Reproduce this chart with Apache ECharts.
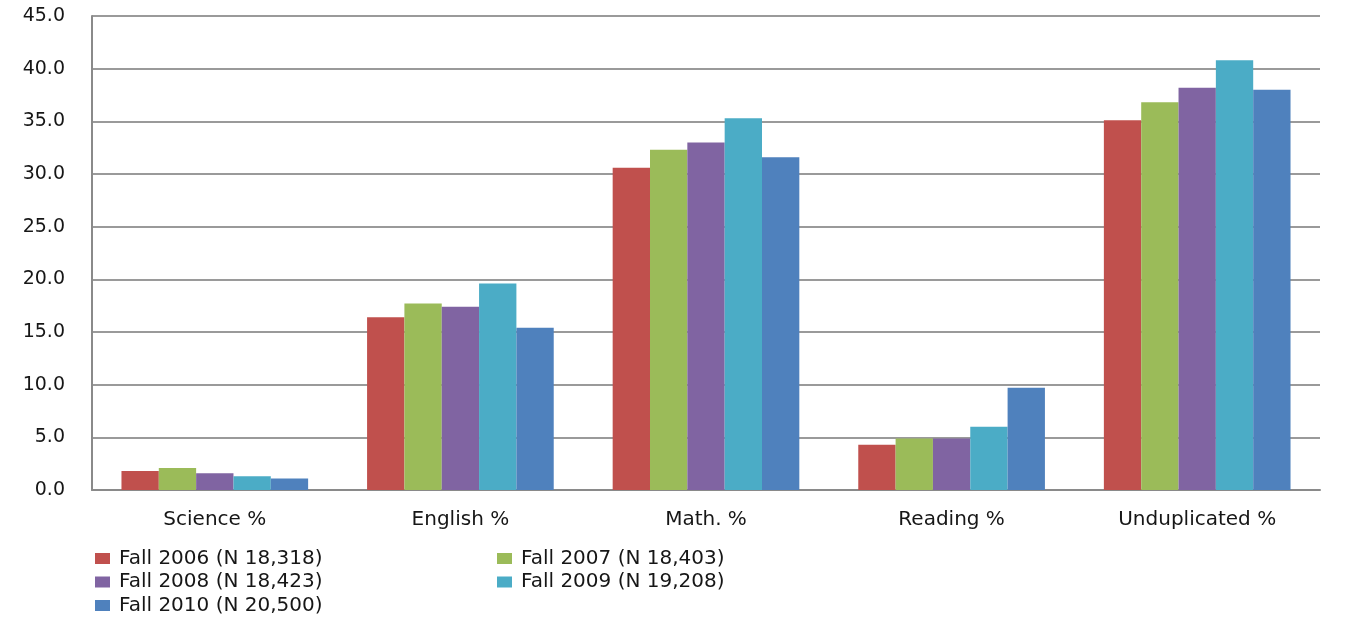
<!DOCTYPE html>
<html>
<head>
<meta charset="utf-8">
<script src="https://cdn.jsdelivr.net/npm/echarts@6/dist/echarts.min.js"></script>
<style>
  html, body { margin: 0; padding: 0; background: #fff; }
  #chart { width: 1347px; height: 632px; }
</style>
</head>
<body>
<div id="chart"></div>
<script>
// Subject areas on the category axis
const categories = ['Science %', 'English %', 'Math. %', 'Reading %', 'Unduplicated %'];

// Cohort names shown in the legend
const seriesNames = [
  'Fall 2006 (N 18,318)',
  'Fall 2007 (N 18,403)',
  'Fall 2008 (N 18,423)',
  'Fall 2009 (N 19,208)',
  'Fall 2010 (N 20,500)'
];

// Percentages per cohort, one value per subject area
const fall2006 = [1.8, 16.4, 30.6, 4.3, 35.1];
const fall2007 = [2.1, 17.7, 32.3, 4.9, 36.8];
const fall2008 = [1.6, 17.4, 33.0, 4.9, 38.2];
const fall2009 = [1.3, 19.6, 35.3, 6.0, 40.8];
const fall2010 = [1.1, 15.4, 31.6, 9.7, 38.0];

// Value axis ticks
const yMin = 0;
const yMax = 45;
const yStep = 5;

const seriesValues = [fall2006, fall2007, fall2008, fall2009, fall2010];
const colors = ['#C0504D', '#9BBB59', '#8064A2', '#4BACC6', '#4F81BD'];

// Legend slots: two columns, three rows
const legendSlots = [
  { left: 90, top: 543.5 },
  { left: 492, top: 543.5 },
  { left: 90, top: 567 },
  { left: 492, top: 567 },
  { left: 90, top: 590.5 }
];

const textFont = '"DejaVu Sans", Verdana, sans-serif';
const textColor = '#161616';

const chart = echarts.init(document.getElementById('chart'), null, { renderer: 'canvas' });

chart.setOption({
  animation: false,
  color: colors,
  grid: { left: 92, right: 27, top: 16, bottom: 142, containLabel: false },
  legend: seriesNames.map((name, i) => ({
    data: [name],
    left: legendSlots[i].left,
    top: legendSlots[i].top,
    itemWidth: 15,
    itemHeight: 11,
    itemGap: 6,
    icon: 'rect',
    selectedMode: false,
    textStyle: {
      fontFamily: textFont,
      fontSize: 20,
      color: textColor,
      padding: [0, 0, 0, 4]
    }
  })),
  xAxis: {
    type: 'category',
    data: categories,
    axisLine: { show: true, lineStyle: { color: '#8a8a8a', width: 2 } },
    axisTick: { show: false },
    axisLabel: {
      margin: 20,
      fontFamily: textFont,
      fontSize: 20,
      color: textColor
    }
  },
  yAxis: {
    type: 'value',
    min: yMin,
    max: yMax,
    interval: yStep,
    axisLine: { show: true, lineStyle: { color: '#8a8a8a', width: 2 } },
    axisTick: { show: false },
    splitLine: { show: true, lineStyle: { color: '#9a9a9a', width: 2 } },
    axisLabel: {
      margin: 27,
      fontFamily: textFont,
      fontSize: 19,
      color: textColor,
      formatter: v => v.toFixed(1)
    }
  },
  series: seriesNames.map((name, i) => ({
    name: name,
    type: 'bar',
    data: seriesValues[i],
    barGap: '0%',
    barCategoryGap: '24%',
    itemStyle: { color: colors[i] }
  }))
});
</script>
</body>
</html>
